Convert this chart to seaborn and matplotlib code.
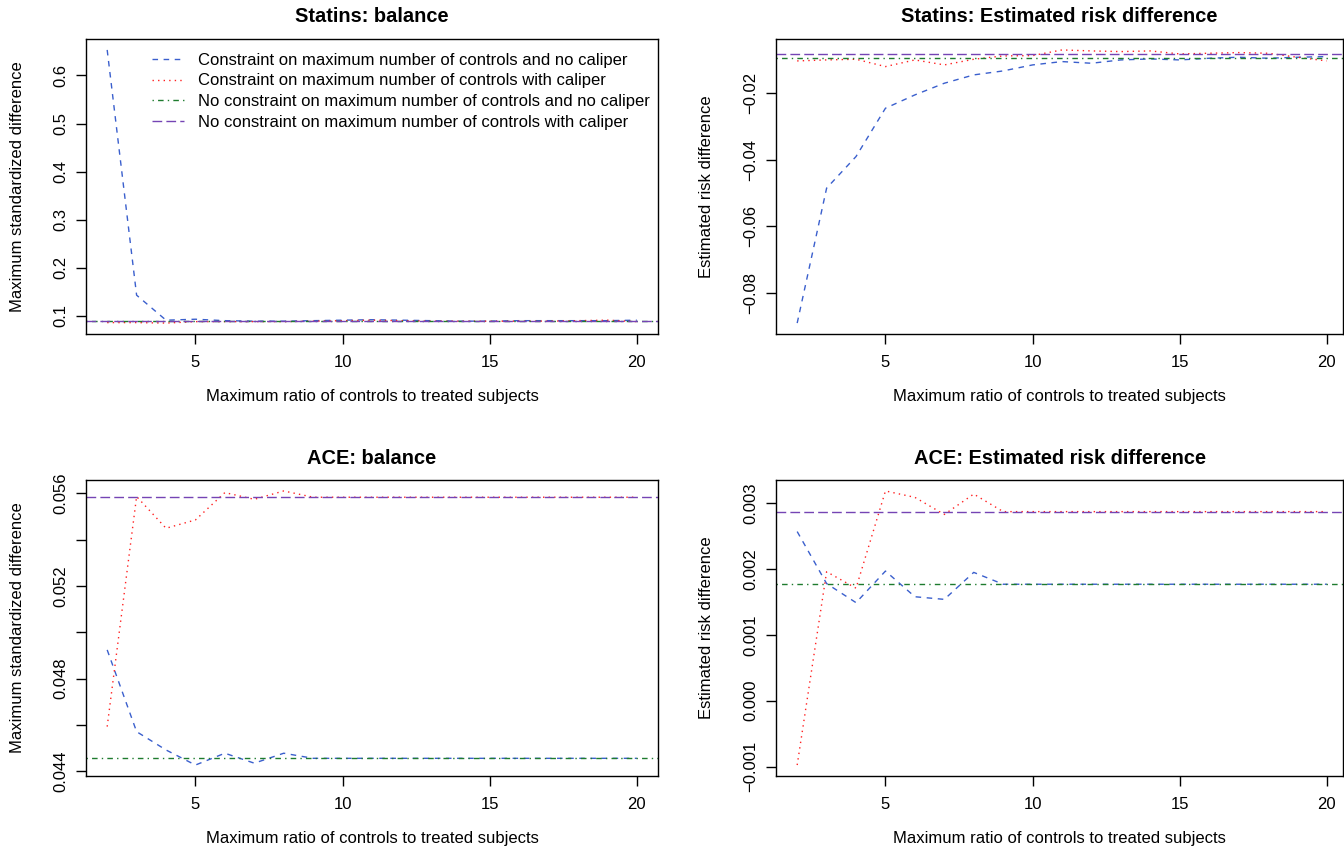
import numpy as np
import pandas as pd
import matplotlib
matplotlib.use("Agg")
import matplotlib.pyplot as plt
from matplotlib.lines import Line2D
import seaborn as sns

# ---------------- data ----------------
ratio = list(range(2, 21))

# Statins: balance (maximum standardized difference)
statins_bal_constr_nocal = [0.653, 0.143, 0.091, 0.093, 0.090, 0.089, 0.089, 0.090, 0.091, 0.092,
                            0.091, 0.090, 0.089, 0.089, 0.090, 0.090, 0.090, 0.090, 0.091]
statins_bal_constr_cal = [0.086, 0.086, 0.085, 0.088, 0.088, 0.088, 0.088, 0.089, 0.090, 0.091,
                          0.090, 0.089, 0.089, 0.089, 0.089, 0.089, 0.090, 0.091, 0.088]
statins_bal_noconstr_nocal = 0.0897
statins_bal_noconstr_cal = 0.0899

# Statins: estimated risk difference
statins_rd_constr_nocal = [-0.0890, -0.0485, -0.0390, -0.0245, -0.0205, -0.0170, -0.0145, -0.0133,
                           -0.0115, -0.0105, -0.0110, -0.0100, -0.0097, -0.0100, -0.0095, -0.0092,
                           -0.0095, -0.0092, -0.0090]
statins_rd_constr_cal = [-0.0103, -0.0100, -0.0098, -0.0120, -0.0100, -0.0115, -0.0098, -0.0088,
                         -0.0087, -0.0070, -0.0073, -0.0075, -0.0073, -0.0082, -0.0080, -0.0078,
                         -0.0080, -0.0092, -0.0103]
statins_rd_noconstr_nocal = -0.0095
statins_rd_noconstr_cal = -0.0083

# ACE: balance
ace_bal_constr_nocal = [0.04924, 0.04571, 0.04492, 0.04427, 0.04478, 0.04435, 0.04478, 0.04456,
                        0.04456, 0.04456, 0.04456, 0.04456, 0.04456, 0.04456, 0.04456, 0.04456,
                        0.04456, 0.04456, 0.04456]
ace_bal_constr_cal = [0.04593, 0.05586, 0.05449, 0.05485, 0.05603, 0.05574, 0.05610, 0.05583,
                      0.05583, 0.05583, 0.05583, 0.05583, 0.05583, 0.05583, 0.05583, 0.05583,
                      0.05583, 0.05583, 0.05583]
ace_bal_noconstr_nocal = 0.04456
ace_bal_noconstr_cal = 0.05583

# ACE: estimated risk difference
ace_rd_constr_nocal = [0.00257, 0.00178, 0.00149, 0.00197, 0.00158, 0.00154, 0.00195, 0.00177,
                       0.00177, 0.00177, 0.00177, 0.00177, 0.00177, 0.00177, 0.00177, 0.00177,
                       0.00177, 0.00177, 0.00177]
ace_rd_constr_cal = [-0.000977, 0.00196, 0.00171, 0.003187, 0.00309, 0.00283, 0.00314, 0.002873,
                     0.002873, 0.002873, 0.002873, 0.002873, 0.002873, 0.002873, 0.002873, 0.002873,
                     0.002873, 0.002873, 0.002873]
ace_rd_noconstr_nocal = 0.00177
ace_rd_noconstr_cal = 0.002873

legend_labels = [
    "Constraint on maximum number of controls and no caliper",
    "Constraint on maximum number of controls with caliper",
    "No constraint on maximum number of controls and no caliper",
    "No constraint on maximum number of controls with caliper",
]
titles = ["Statins: balance", "Statins: Estimated risk difference",
          "ACE: balance", "ACE: Estimated risk difference"]
ylabels = ["Maximum standardized difference", "Estimated risk difference",
           "Maximum standardized difference", "Estimated risk difference"]
xlabel = "Maximum ratio of controls to treated subjects"
xticks = [5, 10, 15, 20]

# ---------------- style ----------------
sns.set_theme(style="ticks")
plt.rcParams["font.family"] = ["Liberation Sans", "DejaVu Sans"]
plt.rcParams["text.color"] = "black"
plt.rcParams["axes.labelcolor"] = "black"
plt.rcParams["xtick.color"] = "black"
plt.rcParams["ytick.color"] = "black"

colors = ["#3A5FCD", "#FF2020", "#1E7B2E", "#7544B4"]
styles = [(0, (4, 4)), (0, (1, 3)), (0, (1, 3, 4, 3)), (0, (7, 3))]
LW = 1.0

W, H = 1344, 848
fig = plt.figure(figsize=(W / 100, H / 100), dpi=100)

boxes = [(86, 658, 39, 334), (776, 1343, 39, 334),
         (86, 658, 480, 776), (776, 1343, 480, 776)]

panels = [
    (statins_bal_constr_nocal, statins_bal_constr_cal, statins_bal_noconstr_nocal, statins_bal_noconstr_cal,
     [0.1, 0.2, 0.3, 0.4, 0.5, 0.6], ["0.1", "0.2", "0.3", "0.4", "0.5", "0.6"]),
    (statins_rd_constr_nocal, statins_rd_constr_cal, statins_rd_noconstr_nocal, statins_rd_noconstr_cal,
     [-0.08, -0.06, -0.04, -0.02], ["\u22120.08", "\u22120.06", "\u22120.04", "\u22120.02"]),
    (ace_bal_constr_nocal, ace_bal_constr_cal, ace_bal_noconstr_nocal, ace_bal_noconstr_cal,
     [0.044, 0.046, 0.048, 0.050, 0.052, 0.054, 0.056], ["0.044", "", "0.048", "", "0.052", "", "0.056"]),
    (ace_rd_constr_nocal, ace_rd_constr_cal, ace_rd_noconstr_nocal, ace_rd_noconstr_cal,
     [-0.001, 0.0, 0.001, 0.002, 0.003], ["\u22120.001", "0.000", "0.001", "0.002", "0.003"]),
]

for i, (box, pdata) in enumerate(zip(boxes, panels)):
    l, r, t, b = box
    ax = fig.add_axes([l / W, 1 - b / H, (r - l) / W, (b - t) / H])
    s_cn, s_cc, h_nn, h_nc, yt, ytl = pdata

    sns.lineplot(x=ratio, y=s_cn, ax=ax, color=colors[0], linestyle=styles[0], lw=LW)
    sns.lineplot(x=ratio, y=s_cc, ax=ax, color=colors[1], linestyle=styles[1], lw=LW)
    ax.axhline(h_nn, color=colors[2], linestyle=styles[2], lw=LW)
    ax.axhline(h_nc, color=colors[3], linestyle=styles[3], lw=LW)

    allv = list(s_cn) + list(s_cc) + [h_nn, h_nc]
    lo, hi = min(allv), max(allv)
    pad = 0.04 * (hi - lo)
    ax.set_ylim(lo - pad, hi + pad)
    xr = 20 - 2
    if r == 1343:
        ax.set_xlim(2 - 0.04 * xr, 2 - 0.04 * xr + (r - l) / 572 * 1.08 * xr)
    else:
        ax.set_xlim(2 - 0.04 * xr, 20 + 0.04 * xr)

    ax.set_xticks(xticks)
    ax.set_xticklabels([str(v) for v in xticks])
    ax.set_yticks(yt)
    ax.set_yticklabels(ytl)
    ax.tick_params(axis="both", direction="out", length=7, width=1, colors="black",
                   labelsize=12)
    ax.tick_params(axis="x", pad=8)
    ax.tick_params(axis="y", pad=6)
    for lab in ax.get_yticklabels():
        lab.set_rotation(90)
        lab.set_va("center")
        lab.set_ha("right")

    for sp in ax.spines.values():
        sp.set_visible(True)
        sp.set_color("black")
        sp.set_linewidth(1.0)
    ax.grid(False)

    ax.set_xlabel(xlabel, fontsize=12, color="black")
    ax.set_ylabel(ylabels[i], fontsize=12, color="black")
    ax.xaxis.label.set_va("center")
    ax.yaxis.label.set_va("center")
    ax.xaxis.set_label_coords(0.5, -63 / (b - t))
    ylab_x = 18 if l == 86 else 707
    ax.yaxis.set_label_coords(-(l - ylab_x) / (r - l), 0.5)

    ttl_y = 17 if t == 39 else 458
    ax.set_title(titles[i], fontsize=14.4, fontweight="bold", y=1 + (t - ttl_y) / (b - t),
                 va="center", pad=0, color="black")

    if i == 0:
        handles = [Line2D([0], [0], color=colors[k], linestyle=styles[k], lw=LW) for k in range(4)]
        ax.legend(handles, legend_labels, loc="upper left", frameon=False, fontsize=12,
                  bbox_to_anchor=(152 / W, 1 - 53 / H), bbox_transform=fig.transFigure,
                  borderpad=0, borderaxespad=0, handlelength=1.9, handletextpad=0.85,
                  labelspacing=0.33)

fig.savefig("out.png", dpi=100)
